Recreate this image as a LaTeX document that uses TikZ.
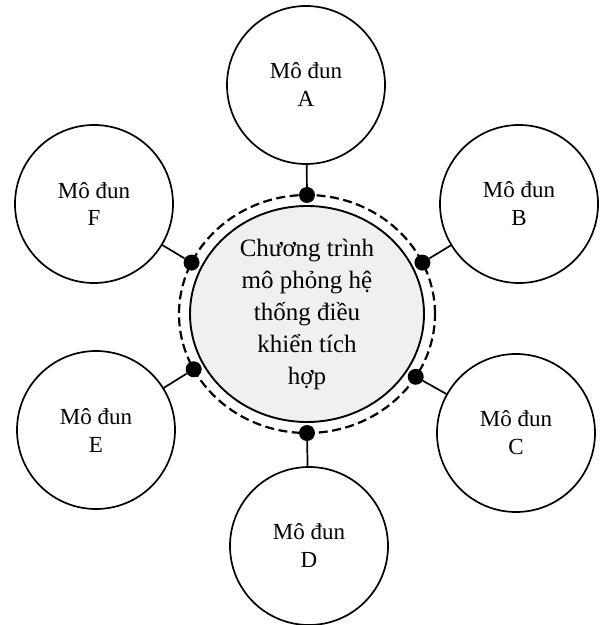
\documentclass[tikz,border=0pt]{standalone}
\usepackage{fontspec}
\setmainfont{Liberation Serif}
\usetikzlibrary{shapes.geometric}

\tikzset{
  module/.style={circle,draw,line width=1.7pt,minimum size=158pt,inner sep=0pt,
    align=center,font=\fontsize{23}{28}\selectfont},
  ringline/.style={ellipse,draw,line width=2.2pt,dash pattern=on 9pt off 4.5pt,
    minimum width=256pt,minimum height=238pt,outer sep=0pt},
  core/.style={ellipse,draw,line width=1.9pt,fill=gray!12,minimum width=234pt,
    minimum height=216pt,inner sep=0pt,align=center,font=\fontsize{25}{32}\selectfont},
  joint/.style={circle,fill=black,minimum size=16pt,inner sep=0pt},
  link/.style={line width=1.7pt}
}

\begin{document}
\begin{tikzpicture}[x=1pt,y=1pt]
	\useasboundingbox (0,0) rectangle (602,625);

	% Central program with its dashed ring
	\node[ringline] (ring) at (307,311) {};
	\node[core] (core) at (307,311) {Chương trình\\mô phỏng hệ\\thống điều\\khiển tích\\hợp};

	% Modules around it
	\node[module] (A) at (306,540) {Mô đun\\A};
	\node[module] (B) at (519,421) {Mô đun\\B};
	\node[module] (C) at (516,192) {Mô đun\\C};
	\node[module] (D) at (309,79) {Mô đun\\D};
	\node[module] (E) at (96,195) {Mô đun\\E};
	\node[module] (F) at (94,421) {Mô đun\\F};

	% Joints on the ring
	\node[joint] (jA) at (ring.90) {};
	\node[joint] (jB) at (ring.24) {};
	\node[joint] (jC) at (ring.-30) {};
	\node[joint] (jD) at (ring.270) {};
	\node[joint] (jE) at (ring.206) {};
	\node[joint] (jF) at (ring.156) {};

	% Links
	\draw[link] (jA) -- (A);
	\draw[link] (jB) -- (B);
	\draw[link] (jC) -- (C);
	\draw[link] (jD) -- (D);
	\draw[link] (jE) -- (E);
	\draw[link] (jF) -- (F);
\end{tikzpicture}
\end{document}
